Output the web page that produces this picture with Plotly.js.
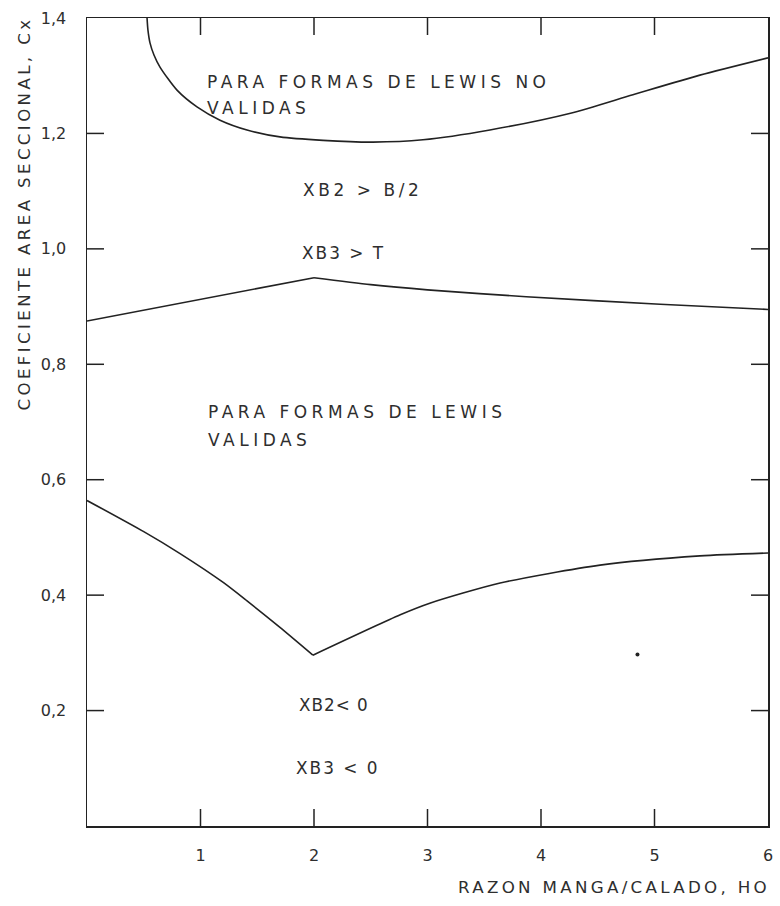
<!DOCTYPE html>
<html>
<head>
<meta charset="utf-8">
<script src="https://cdn.plot.ly/plotly-3.0.1.min.js"></script>
<style>
  html, body { margin: 0; padding: 0; background: #fff; }
  text.annotation-text[style*="font-size: 17px"] { letter-spacing: 4.5px; }
  text.annotation-text[style*="font-size: 16.95px"] { letter-spacing: 3.6px; }
  text.annotation-text[style*="font-size: 16.9px"] { letter-spacing: 2px; }
  text.annotation-text[style*="font-size: 16.8px"] { letter-spacing: 1px; }
  text.annotation-text[style*="font-size: 16.7px"] { letter-spacing: 3.3px; }
  text.annotation-text[style*="font-size: 16.6px"] { letter-spacing: 3.4px; }
</style>
</head>
<body>
<div id="chart" style="width:780px;height:906px;"></div>
<script>
// ---- Data ----
// Upper boundary curve (above: "PARA FORMAS DE LEWIS NO VALIDAS")
const upperX = [0.529, 0.537, 0.555, 0.590, 0.643, 0.793, 0.969, 1.172, 1.41, 1.70, 2.08, 2.52, 2.96, 3.55, 4.26, 4.81, 5.40, 6.0];
const upperY = [1.400, 1.379, 1.357, 1.336, 1.315, 1.275, 1.246, 1.223, 1.206, 1.194, 1.188, 1.185, 1.189, 1.206, 1.235, 1.267, 1.301, 1.331];

// Middle line (XB3 > T boundary)
const midLeftX = [0, 2.0];
const midLeftY = [0.875, 0.950];
const midRightX = [2.0, 2.5, 3.0, 3.87, 5.05, 6.0];
const midRightY = [0.950, 0.938, 0.929, 0.917, 0.904, 0.895];

// Lower boundary (XB2 < 0)
const lowLeftX = [0, 0.5, 0.82, 1.2, 1.41, 1.7, 1.99];
const lowLeftY = [0.564, 0.510, 0.472, 0.422, 0.390, 0.344, 0.296];
const lowRightX = [1.99, 2.76, 3.02, 3.64, 4.52, 5.40, 6.0];
const lowRightY = [0.296, 0.366, 0.386, 0.421, 0.452, 0.468, 0.473];

// Stray dot in the reference
const dotX = [4.85];
const dotY = [0.297];

// Ticks
const xTickVals = [1, 2, 3, 4, 5];
const xTickText = ["1", "2", "3", "4", "5"];
const xLabelVals = [1, 2, 3, 4, 5, 6];
const xLabelText = ["1", "2", "3", "4", "5", "6"];
const yTickVals = [0.2, 0.4, 0.6, 0.8, 1.0, 1.2];
const yLabelVals = [0.2, 0.4, 0.6, 0.8, 1.0, 1.2, 1.4];
const yLabelText = ["0,2", "0,4", "0,6", "0,8", "1,0", "1,2", "1,4"];

// Texts
const xTitle = "RAZON MANGA/CALADO, HO";
const yTitle = "COEFICIENTE AREA SECCIONAL, Cx";
const labels = {
  noValidas1: "PARA FORMAS DE LEWIS NO",
  noValidas2: "VALIDAS",
  xb2gt: "XB2 > B/2",
  xb3gt: "XB3 > T",
  validas1: "PARA FORMAS DE LEWIS",
  validas2: "VALIDAS",
  xb2lt: "XB2< 0",
  xb3lt: "XB3 < 0"
};

// ---- Drawing ----
const FONT = "DejaVu Sans, sans-serif";
const INK = "#222";
const TXT = "#2e2e2e";
const lineStyle = {color: INK, width: 1.6};
const splineLine = Object.assign({shape: "spline", smoothing: 0.7}, lineStyle);

const traces = [
  {x: upperX, y: upperY, mode: "lines", line: splineLine, hoverinfo: "skip"},
  {x: midLeftX, y: midLeftY, mode: "lines", line: lineStyle, hoverinfo: "skip"},
  {x: midRightX, y: midRightY, mode: "lines", line: splineLine, hoverinfo: "skip"},
  {x: lowLeftX, y: lowLeftY, mode: "lines", line: splineLine, hoverinfo: "skip"},
  {x: lowRightX, y: lowRightY, mode: "lines", line: splineLine, hoverinfo: "skip"},
  {x: dotX, y: dotY, mode: "markers", marker: {color: INK, size: 4}, hoverinfo: "skip"}
];

function ann(text, x, y, size) {
  return {text: text, x: x, y: y, xref: "x", yref: "y", xanchor: "left", yanchor: "middle",
          showarrow: false, font: {family: FONT, size: size, color: TXT}};
}

// Inward tick marks on all four sides, placed at the tick values through the axes
const TICK_FRAC_X = 17 / 681;   // 17px of the plot width
const TICK_FRAC_Y = 17 / 808;   // 17px of the plot height
const tickShapes = [];
xTickVals.forEach(function (v) {
  tickShapes.push({type: "line", xref: "x", yref: "paper", x0: v, x1: v, y0: 0, y1: TICK_FRAC_Y, line: {color: INK, width: 1.5}});
  tickShapes.push({type: "line", xref: "x", yref: "paper", x0: v, x1: v, y0: 1, y1: 1 - TICK_FRAC_Y, line: {color: INK, width: 1.5}});
});
yTickVals.forEach(function (v) {
  tickShapes.push({type: "line", xref: "paper", yref: "y", x0: 0, x1: TICK_FRAC_X, y0: v, y1: v, line: {color: INK, width: 1.5}});
  tickShapes.push({type: "line", xref: "paper", yref: "y", x0: 1, x1: 1 - TICK_FRAC_X, y0: v, y1: v, line: {color: INK, width: 1.5}});
});

// Axes: frame lines + labels (invisible outside ticks only serve as label spacing)
const axisCommon = {
  ticks: "outside", tickcolor: "rgba(0,0,0,0)", tickwidth: 1,
  showline: true, linecolor: INK, linewidth: 1.5, mirror: true,
  showgrid: false, zeroline: false,
  tickfont: {family: FONT, size: 16, color: TXT}
};

const layout = {
  width: 780, height: 906,
  margin: {l: 87, r: 12, t: 18, b: 80, pad: 0},
  paper_bgcolor: "#fff", plot_bgcolor: "#fff",
  showlegend: false,
  separators: ",.",
  xaxis: Object.assign({range: [0, 6], tickvals: xLabelVals, ticktext: xLabelText, ticklen: 14}, axisCommon),
  yaxis: Object.assign({range: [0, 1.4], tickvals: yLabelVals, ticktext: yLabelText, ticklen: 16}, axisCommon),
  shapes: tickShapes,
  annotations: [
    ann(labels.noValidas1, 1.04, 1.289, 17),
    ann(labels.noValidas2, 1.04, 1.244, 17),
    ann(labels.xb2gt, 1.885, 1.102, 16.95),
    ann(labels.xb3gt, 1.877, 0.993, 16.9),
    ann(labels.validas1, 1.05, 0.7175, 17),
    ann(labels.validas2, 1.05, 0.669, 17),
    ann(labels.xb2lt, 1.85, 0.2097, 16.8),
    ann(labels.xb3lt, 1.824, 0.1005, 16.9),
    {text: xTitle, xref: "paper", yref: "paper", x: 1.006, y: -0.0755, xanchor: "right", yanchor: "middle",
     showarrow: false, font: {family: FONT, size: 16.7, color: TXT}},
    {text: yTitle, xref: "paper", yref: "paper", x: -0.091, y: 0.758, xanchor: "center", yanchor: "middle",
     textangle: -90, showarrow: false, font: {family: FONT, size: 16.6, color: TXT}}
  ]
};

Plotly.newPlot("chart", traces, layout, {staticPlot: true, displayModeBar: false});
</script>
</body>
</html>
